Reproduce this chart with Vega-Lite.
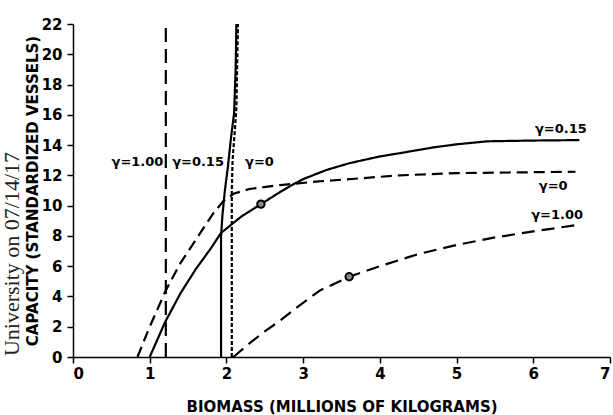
{
  "$schema": "https://vega.github.io/schema/vega-lite/v6.json",
  "width": 537,
  "height": 333,
  "autosize": {"type": "none"},
  "padding": {"left": 73, "top": 24, "right": 3, "bottom": 58},
  "background": "white",
  "title": {
    "text": "University on 07/14/17",
    "orient": "left",
    "anchor": "end",
    "frame": "group",
    "font": "Liberation Serif",
    "fontSize": 22,
    "fontWeight": "normal",
    "color": "#222",
    "offset": 1,
    "dx": -128
  },
  "config": {
    "view": {"stroke": null},
    "axis": {
      "grid": false,
      "domainColor": "black",
      "domainWidth": 1.5,
      "tickColor": "black",
      "tickWidth": 1.5,
      "tickSize": 6,
      "labelFont": "DejaVu Sans",
      "labelFontWeight": "bold",
      "labelFontSize": 15,
      "labelColor": "black",
      "titleFont": "DejaVu Sans",
      "titleFontWeight": "bold",
      "titleFontSize": 15,
      "titleColor": "black"
    }
  },
  "datasets": {
    "curves": [
      {"series": "c015", "i": 1, "x": 1.0, "y": 0},
      {"series": "c015", "i": 2, "x": 1.2, "y": 2.3},
      {"series": "c015", "i": 3, "x": 1.4, "y": 4.2},
      {"series": "c015", "i": 4, "x": 1.6, "y": 5.8},
      {"series": "c015", "i": 5, "x": 1.8, "y": 7.2},
      {"series": "c015", "i": 6, "x": 1.93, "y": 8.2},
      {"series": "c015", "i": 7, "x": 2.2, "y": 9.3},
      {"series": "c015", "i": 8, "x": 2.45, "y": 10.1},
      {"series": "c015", "i": 9, "x": 2.7, "y": 10.9},
      {"series": "c015", "i": 10, "x": 2.85, "y": 11.35},
      {"series": "c015", "i": 11, "x": 3.0, "y": 11.75},
      {"series": "c015", "i": 12, "x": 3.3, "y": 12.35},
      {"series": "c015", "i": 13, "x": 3.6, "y": 12.8},
      {"series": "c015", "i": 14, "x": 4.0, "y": 13.25},
      {"series": "c015", "i": 15, "x": 4.3, "y": 13.5},
      {"series": "c015", "i": 16, "x": 4.7, "y": 13.85},
      {"series": "c015", "i": 17, "x": 5.0, "y": 14.05},
      {"series": "c015", "i": 18, "x": 5.4, "y": 14.25},
      {"series": "c015", "i": 19, "x": 6.0, "y": 14.3},
      {"series": "c015", "i": 20, "x": 6.6, "y": 14.33},
      {"series": "c0", "i": 1, "x": 0.84, "y": 0},
      {"series": "c0", "i": 2, "x": 1.0, "y": 2.0},
      {"series": "c0", "i": 3, "x": 1.21, "y": 4.4},
      {"series": "c0", "i": 4, "x": 1.4, "y": 6.2},
      {"series": "c0", "i": 5, "x": 1.66, "y": 8.2},
      {"series": "c0", "i": 6, "x": 1.83, "y": 9.5},
      {"series": "c0", "i": 7, "x": 1.96, "y": 10.3},
      {"series": "c0", "i": 8, "x": 2.1, "y": 10.8},
      {"series": "c0", "i": 9, "x": 2.3, "y": 11.1},
      {"series": "c0", "i": 10, "x": 2.7, "y": 11.36},
      {"series": "c0", "i": 11, "x": 3.2, "y": 11.6},
      {"series": "c0", "i": 12, "x": 4.26, "y": 12.0},
      {"series": "c0", "i": 13, "x": 5.0, "y": 12.15},
      {"series": "c0", "i": 14, "x": 6.55, "y": 12.24},
      {"series": "c100", "i": 1, "x": 2.09, "y": 0},
      {"series": "c100", "i": 2, "x": 2.3, "y": 0.9},
      {"series": "c100", "i": 3, "x": 2.5, "y": 1.7},
      {"series": "c100", "i": 4, "x": 2.7, "y": 2.4},
      {"series": "c100", "i": 5, "x": 2.95, "y": 3.4},
      {"series": "c100", "i": 6, "x": 3.22, "y": 4.4},
      {"series": "c100", "i": 7, "x": 3.6, "y": 5.3},
      {"series": "c100", "i": 8, "x": 4.0, "y": 6.0},
      {"series": "c100", "i": 9, "x": 4.5, "y": 6.8},
      {"series": "c100", "i": 10, "x": 5.0, "y": 7.4},
      {"series": "c100", "i": 11, "x": 5.5, "y": 7.9},
      {"series": "c100", "i": 12, "x": 6.0, "y": 8.3},
      {"series": "c100", "i": 13, "x": 6.57, "y": 8.72},
      {"series": "v100", "i": 1, "x": 1.21, "y": 0},
      {"series": "v100", "i": 2, "x": 1.21, "y": 22},
      {"series": "v015", "i": 1, "x": 1.93, "y": 0},
      {"series": "v015", "i": 2, "x": 1.93, "y": 8},
      {"series": "v015", "i": 3, "x": 1.95, "y": 9.5},
      {"series": "v015", "i": 4, "x": 1.98, "y": 11},
      {"series": "v015", "i": 5, "x": 2.02, "y": 12.6},
      {"series": "v015", "i": 6, "x": 2.06, "y": 14.5},
      {"series": "v015", "i": 7, "x": 2.1, "y": 16.1},
      {"series": "v015", "i": 8, "x": 2.12, "y": 19},
      {"series": "v015", "i": 9, "x": 2.13, "y": 22},
      {"series": "v0", "i": 1, "x": 2.07, "y": 0},
      {"series": "v0", "i": 2, "x": 2.07, "y": 11},
      {"series": "v0", "i": 3, "x": 2.08, "y": 13},
      {"series": "v0", "i": 4, "x": 2.11, "y": 15},
      {"series": "v0", "i": 5, "x": 2.13, "y": 16.5},
      {"series": "v0", "i": 6, "x": 2.15, "y": 22}
    ],
    "dots": [
      {"x": 2.45, "y": 10.1},
      {"x": 3.6, "y": 5.3}
    ],
    "labels": [
      {"text": "γ=1.00", "x": 0.84, "y": 12.9},
      {"text": "γ=0.15", "x": 1.63, "y": 12.9},
      {"text": "γ=0", "x": 2.43, "y": 12.9},
      {"text": "γ=0.15", "x": 6.36, "y": 15.06},
      {"text": "γ=0", "x": 6.26, "y": 11.3},
      {"text": "γ=1.00", "x": 6.31, "y": 9.38}
    ]
  },
  "encoding": {
    "x": {
      "field": "x",
      "type": "quantitative",
      "scale": {"domain": [0, 7], "nice": false, "zero": false},
      "axis": {
        "title": "BIOMASS (MILLIONS OF KILOGRAMS)",
        "values": [0, 1, 2, 3, 4, 5, 6, 7],
        "labelPadding": 3,
        "titlePadding": 18
      }
    },
    "y": {
      "field": "y",
      "type": "quantitative",
      "scale": {"domain": [0, 22], "nice": false, "zero": false},
      "axis": {
        "title": "CAPACITY (STANDARDIZED VESSELS)",
        "values": [0, 2, 4, 6, 8, 10, 12, 14, 16, 18, 20, 22],
        "labelPadding": 5,
        "titlePadding": 1
      }
    }
  },
  "layer": [
    {
      "data": {"name": "curves"},
      "mark": {"type": "line", "color": "black", "strokeWidth": 2.2},
      "encoding": {
        "order": {"field": "i", "type": "quantitative"},
        "detail": {"field": "series", "type": "nominal"},
        "strokeDash": {
          "field": "series",
          "type": "nominal",
          "legend": null,
          "scale": {
            "domain": ["c015", "c0", "c100", "v100", "v015", "v0"],
            "range": [[1, 0], [11, 6], [13, 7], [14, 7], [1, 0], [4, 2]]
          }
        }
      }
    },
    {
      "data": {"name": "dots"},
      "mark": {"type": "point", "shape": "circle", "size": 55, "filled": false, "stroke": "black", "strokeWidth": 2, "fill": "#888", "fillOpacity": 1}
    },
    {
      "data": {"name": "labels"},
      "mark": {"type": "text", "font": "DejaVu Sans", "fontWeight": "bold", "fontSize": 13, "color": "black", "align": "center", "baseline": "middle"},
      "encoding": {"text": {"field": "text", "type": "nominal"}}
    }
  ]
}
